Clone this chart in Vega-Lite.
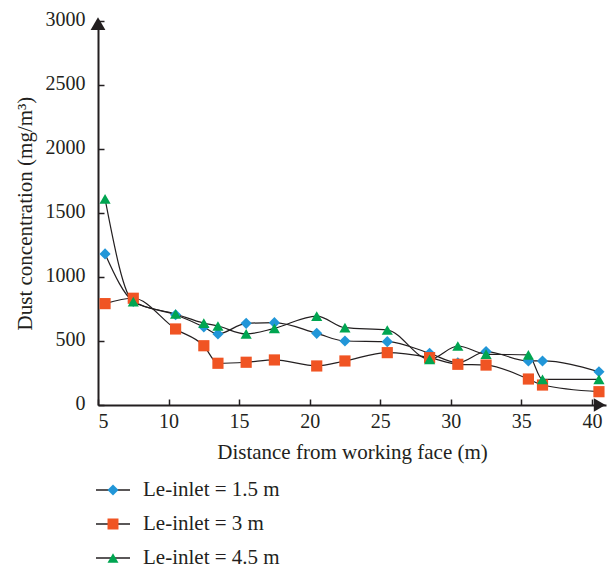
{
  "$schema": "https://vega.github.io/schema/vega-lite/v6.json",
  "autosize": "none",
  "width": 508,
  "height": 384,
  "padding": {"left": 98, "top": 21, "right": 6, "bottom": 163},
  "background": "white",
  "config": {
    "view": {"stroke": null},
    "font": "Liberation Serif",
    "axis": {
      "grid": false,
      "domainColor": "#231f20",
      "domainWidth": 2,
      "tickColor": "#231f20",
      "tickWidth": 1.5,
      "tickSize": -6,
      "labelFont": "Liberation Serif",
      "labelFontSize": 20,
      "labelColor": "#231f20",
      "titleFont": "Liberation Serif",
      "titleFontSize": 21,
      "titleFontWeight": "normal",
      "titleColor": "#231f20"
    }
  },
  "data": {
    "values": [
      {"series": "Le-inlet = 1.5 m", "x": 5.5, "y": 1180},
      {"series": "Le-inlet = 1.5 m", "x": 7.5, "y": 810},
      {"series": "Le-inlet = 1.5 m", "x": 10.5, "y": 705},
      {"series": "Le-inlet = 1.5 m", "x": 12.5, "y": 610},
      {"series": "Le-inlet = 1.5 m", "x": 13.5, "y": 555},
      {"series": "Le-inlet = 1.5 m", "x": 15.5, "y": 638},
      {"series": "Le-inlet = 1.5 m", "x": 17.5, "y": 643},
      {"series": "Le-inlet = 1.5 m", "x": 20.5, "y": 560},
      {"series": "Le-inlet = 1.5 m", "x": 22.5, "y": 500},
      {"series": "Le-inlet = 1.5 m", "x": 25.5, "y": 495},
      {"series": "Le-inlet = 1.5 m", "x": 28.5, "y": 404},
      {"series": "Le-inlet = 1.5 m", "x": 30.5, "y": 330},
      {"series": "Le-inlet = 1.5 m", "x": 32.5, "y": 417},
      {"series": "Le-inlet = 1.5 m", "x": 35.5, "y": 344},
      {"series": "Le-inlet = 1.5 m", "x": 36.5, "y": 344},
      {"series": "Le-inlet = 1.5 m", "x": 40.5, "y": 260},
      {"series": "Le-inlet = 3 m", "x": 5.5, "y": 792},
      {"series": "Le-inlet = 3 m", "x": 7.5, "y": 834},
      {"series": "Le-inlet = 3 m", "x": 10.5, "y": 594},
      {"series": "Le-inlet = 3 m", "x": 12.5, "y": 463},
      {"series": "Le-inlet = 3 m", "x": 13.5, "y": 326},
      {"series": "Le-inlet = 3 m", "x": 15.5, "y": 334},
      {"series": "Le-inlet = 3 m", "x": 17.5, "y": 352},
      {"series": "Le-inlet = 3 m", "x": 20.5, "y": 305},
      {"series": "Le-inlet = 3 m", "x": 22.5, "y": 344},
      {"series": "Le-inlet = 3 m", "x": 25.5, "y": 409},
      {"series": "Le-inlet = 3 m", "x": 28.5, "y": 370},
      {"series": "Le-inlet = 3 m", "x": 30.5, "y": 318},
      {"series": "Le-inlet = 3 m", "x": 32.5, "y": 312},
      {"series": "Le-inlet = 3 m", "x": 35.5, "y": 203},
      {"series": "Le-inlet = 3 m", "x": 36.5, "y": 156},
      {"series": "Le-inlet = 3 m", "x": 40.5, "y": 104},
      {"series": "Le-inlet = 4.5 m", "x": 5.5, "y": 1610},
      {"series": "Le-inlet = 4.5 m", "x": 7.5, "y": 807},
      {"series": "Le-inlet = 4.5 m", "x": 10.5, "y": 711},
      {"series": "Le-inlet = 4.5 m", "x": 12.5, "y": 640},
      {"series": "Le-inlet = 4.5 m", "x": 13.5, "y": 617},
      {"series": "Le-inlet = 4.5 m", "x": 15.5, "y": 555},
      {"series": "Le-inlet = 4.5 m", "x": 17.5, "y": 599},
      {"series": "Le-inlet = 4.5 m", "x": 20.5, "y": 695},
      {"series": "Le-inlet = 4.5 m", "x": 22.5, "y": 604},
      {"series": "Le-inlet = 4.5 m", "x": 25.5, "y": 586},
      {"series": "Le-inlet = 4.5 m", "x": 28.5, "y": 357},
      {"series": "Le-inlet = 4.5 m", "x": 30.5, "y": 461},
      {"series": "Le-inlet = 4.5 m", "x": 32.5, "y": 398},
      {"series": "Le-inlet = 4.5 m", "x": 35.5, "y": 391},
      {"series": "Le-inlet = 4.5 m", "x": 36.5, "y": 200},
      {"series": "Le-inlet = 4.5 m", "x": 40.5, "y": 200}
    ]
  },
  "encoding": {
    "x": {
      "field": "x",
      "type": "quantitative",
      "scale": {"domain": [5, 41], "nice": false, "zero": false},
      "axis": {
        "values": [5, 10, 15, 20, 25, 30, 35, 40],
        "format": "d",
        "title": "Distance from working face (m)",
        "labelPadding": 12,
        "titlePadding": 10
      }
    },
    "y": {
      "field": "y",
      "type": "quantitative",
      "scale": {"domain": [0, 3000], "nice": false},
      "axis": {
        "values": [0, 500, 1000, 1500, 2000, 2500, 3000],
        "format": "d",
        "title": "Dust concentration (mg/m³)",
        "labelPadding": 19,
        "labelOffset": -2,
        "titlePadding": 10
      }
    }
  },
  "layer": [
    {
      "mark": {"type": "line", "interpolate": "monotone", "strokeWidth": 1.2},
      "encoding": {
        "stroke": {
          "field": "series",
          "type": "nominal",
          "scale": {
            "domain": ["Le-inlet = 1.5 m", "Le-inlet = 3 m", "Le-inlet = 4.5 m"],
            "range": ["#231f20", "#231f20", "#231f20"]
          },
          "legend": {
            "orient": "none",
            "legendX": -3,
            "legendY": 461,
            "title": null,
            "symbolType": "stroke",
            "symbolSize": 1156,
            "symbolStrokeWidth": 1.6,
            "clipHeight": 16,
            "rowPadding": 13,
            "padding": 0,
            "labelOffset": 12,
            "labelFont": "Liberation Serif",
            "labelFontSize": 21,
            "labelColor": "#231f20"
          }
        }
      }
    },
    {
      "mark": {"type": "point", "filled": true, "opacity": 1, "size": 125},
      "encoding": {
        "color": {
          "field": "series",
          "type": "nominal",
          "scale": {"range": ["#2196d8", "#f05423", "#00a551"]},
          "legend": {
            "orient": "none",
            "legendX": 4.5,
            "legendY": 461,
            "title": null,
            "symbolSize": 120,
            "clipHeight": 16,
            "rowPadding": 13,
            "padding": 0,
            "labelExpr": "''",
            "labelFontSize": 21
          }
        },
        "shape": {
          "field": "series",
          "type": "nominal",
          "scale": {"range": ["diamond", "square", "triangle-up"]}
        }
      }
    },
    {
      "data": {"values": [{"ax": 5, "ay": 2980}]},
      "mark": {"type": "point", "filled": true, "opacity": 1, "color": "#231f20", "size": 220, "shape": "triangle-up"},
      "encoding": {"x": {"field": "ax", "type": "quantitative"}, "y": {"field": "ay", "type": "quantitative"}}
    },
    {
      "data": {"values": [{"ax": 40.55, "ay": 0}]},
      "mark": {"type": "point", "filled": true, "opacity": 1, "color": "#231f20", "size": 180, "shape": "triangle-right"},
      "encoding": {"x": {"field": "ax", "type": "quantitative"}, "y": {"field": "ay", "type": "quantitative"}}
    }
  ]
}
